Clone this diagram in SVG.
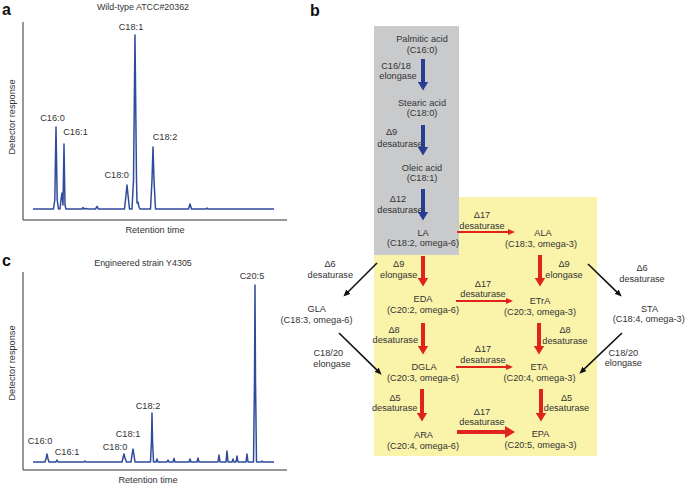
<svg xmlns="http://www.w3.org/2000/svg" width="685" height="486" viewBox="0 0 685 486">
<style>
text{font-family:"Liberation Sans",Arial,sans-serif;font-size:9.2px;fill:#333;text-anchor:middle}
.pl{font-size:16px;font-weight:bold;fill:#111;text-anchor:start}
.ttl{font-size:8.9px}
.ax{stroke:#333;stroke-width:1;fill:none}
.tr{stroke:#2f4b9c;stroke-width:1.5;fill:none;stroke-linejoin:round}
.rb{stroke:#e0231d;stroke-width:4;fill:none}
.rs{stroke:#e0231d;stroke-width:1.8;fill:none}
.bl{stroke:#2a3b93;stroke-width:4;fill:none}
.bk{stroke:#111;stroke-width:1.6;fill:none}
</style>
<defs>
<marker id="hRB" markerUnits="userSpaceOnUse" viewBox="0 0 9 11" markerWidth="9" markerHeight="11" refX="0.5" refY="5.5" orient="auto"><path d="M0,0 L9,5.5 L0,11 z" fill="#e0231d"/></marker>
<marker id="hRS" markerUnits="userSpaceOnUse" viewBox="0 0 7 6" markerWidth="7" markerHeight="6" refX="0.5" refY="3" orient="auto"><path d="M0,0 L7,3 L0,6 z" fill="#e0231d"/></marker>
<marker id="hRT" markerUnits="userSpaceOnUse" viewBox="0 0 10 12" markerWidth="10" markerHeight="12" refX="0.5" refY="6" orient="auto"><path d="M0,0 L10,6 L0,12 z" fill="#e0231d"/></marker>
<marker id="hBL" markerUnits="userSpaceOnUse" viewBox="0 0 9 11" markerWidth="9" markerHeight="11" refX="0.5" refY="5.5" orient="auto"><path d="M0,0 L9,5.5 L0,11 z" fill="#2a3b93"/></marker>
<marker id="hBK" markerUnits="userSpaceOnUse" viewBox="0 0 7 6" markerWidth="7" markerHeight="6" refX="0.5" refY="3" orient="auto"><path d="M0,0 L7,3 L0,6 z" fill="#111"/></marker>
</defs>
<rect width="685" height="486" fill="#fff"/>

<!-- Panel a -->
<g id="panel-a">
<text class="pl" x="2" y="15">a</text>
<text class="ttl" x="143" y="10">Wild-type ATCC#20362</text>
<path class="ax" d="M23,22 V220 H287"/>
<text transform="translate(15,117) rotate(-90)">Detector response</text>
<text x="155" y="233.3">Retention time</text>
<path class="tr" d="M33,209 L53.5,209 L54.8,200 L56,127 L57.2,200 L58.5,209 L60,209 L61.2,198 L62,193 L62.6,200 L63,205 L64,144 L65,205 L66,209 L82,209 L83,207.5 L84,209 L86,208.5 L88,209 L95.5,209 L97,206.5 L98.5,209 L124.5,209 L126,195 L127,185 L128,195 L129.5,209 L132,209 L133.5,180 L135,35 L136.5,180 L137,203 L138,202 L139,207 L140,209 L150.5,209 L152,180 L153,147 L154,180 L155.5,209 L188.5,209 L190,204 L191.5,209 L206,209 L207,208 L208,209 L274,209"/>
<text x="52.5" y="120.8">C16:0</text>
<text x="75.5" y="135">C16:1</text>
<text x="116.7" y="178.3">C18:0</text>
<text x="131" y="30.3">C18:1</text>
<text x="165" y="140.3">C18:2</text>
</g>

<!-- Panel c -->
<g id="panel-c">
<text class="pl" x="2" y="266">c</text>
<text class="ttl" x="143" y="266">Engineered strain Y4305</text>
<path class="ax" d="M23,272 V470 H287"/>
<text transform="translate(15,363) rotate(-90)">Detector response</text>
<text x="148" y="483.3">Retention time</text>
<path class="tr" d="M33,462 L45,462 L46.2,458 L47,454 L47.8,458 L49,462 L56,462 L57,460 L58,462 L84,462 L85,461 L86,462 L122,462 L123,458 L124,454 L125,458 L126.5,462 L131,462 L132,455 L133,449 L134,455 L135,462 L150.5,462 L151.5,440 L152,413 L152.5,440 L153.5,462 L156,462 L157,459 L158,462 L167,462 L168,460 L169,462 L173,462 L174,458.5 L175,462 L189,462 L190,459 L191,462 L197,462 L198,458 L199,462 L218,462 L219,455 L220,462 L226,462 L227,451 L228,462 L232,462 L233,459 L234,462 L236,462 L237,456 L238,462 L246,462 L247,454 L248,462 L253.5,462 L254.5,380 L255,285 L255.5,380 L256.5,462 L261,462 L262,461 L263,462 L274,462"/>
<text x="40" y="444.3">C16:0</text>
<text x="67" y="455.3">C16:1</text>
<text x="115" y="450.3">C18:0</text>
<text x="128" y="437.3">C18:1</text>
<text x="148" y="409.3">C18:2</text>
<text x="252" y="279.3">C20:5</text>
</g>

<!-- Panel b backgrounds -->
<text class="pl" x="310" y="16">b</text>
<rect x="374" y="197" width="223" height="259" fill="#faf4ab"/>
<rect x="374" y="26" width="85" height="229" fill="#c9cacc"/>

<!-- Connectors -->
<g id="connectors">
<line class="bl" x1="423" y1="59" x2="423" y2="82" marker-end="url(#hBL)"/>
<line class="bl" x1="423" y1="125" x2="423" y2="147" marker-end="url(#hBL)"/>
<line class="bl" x1="423" y1="189" x2="423" y2="212" marker-end="url(#hBL)"/>
<line class="rb" x1="423" y1="256" x2="423" y2="278" marker-end="url(#hRB)"/>
<line class="rb" x1="423" y1="323" x2="423" y2="346" marker-end="url(#hRB)"/>
<line class="rb" x1="422" y1="389" x2="422" y2="413" marker-end="url(#hRB)"/>
<line class="rb" x1="540" y1="255" x2="540" y2="278" marker-end="url(#hRB)"/>
<line class="rb" x1="539" y1="323" x2="539" y2="346" marker-end="url(#hRB)"/>
<line class="rb" x1="541" y1="389" x2="541" y2="413" marker-end="url(#hRB)"/>
<line class="rs" x1="457" y1="232" x2="508.5" y2="232" marker-end="url(#hRS)"/>
<line class="rs" x1="456" y1="301" x2="506.5" y2="301" marker-end="url(#hRS)"/>
<line class="rs" x1="456" y1="367" x2="506.5" y2="367" marker-end="url(#hRS)"/>
<line class="rb" x1="457" y1="432" x2="505.5" y2="432" marker-end="url(#hRT)"/>
<line class="bk" x1="377" y1="263" x2="348" y2="292" marker-end="url(#hBK)"/>
<line class="bk" x1="339" y1="333" x2="377" y2="370.1" marker-end="url(#hBK)"/>
<line class="bk" x1="588" y1="264" x2="617" y2="292.1" marker-end="url(#hBK)"/>
<line class="bk" x1="622" y1="333" x2="584.1" y2="369.2" marker-end="url(#hBK)"/>
</g>

<!-- Enzyme labels -->
<g id="labels">
<text x="396" y="69">C16/18</text><text x="398" y="79">elongase</text>
<text x="391.5" y="135">Δ9</text><text x="400" y="146.5">desaturase</text>
<text x="398" y="202.3">Δ12</text><text x="400" y="212.5">desaturase</text>
<text x="482" y="218.3">Δ17</text><text x="482" y="228.5">desaturase</text>
<text x="483" y="286.6">Δ17</text><text x="483" y="296.6">desaturase</text>
<text x="483" y="352.3">Δ17</text><text x="483" y="362.6">desaturase</text>
<text x="482" y="415">Δ17</text><text x="482" y="425">desaturase</text>
<text x="564" y="267.3">Δ9</text><text x="564" y="277.5">elongase</text>
<text x="565" y="333.3">Δ8</text><text x="565" y="344">desaturase</text>
<text x="566.5" y="400.6">Δ5</text><text x="566.5" y="411">desaturase</text>
<text x="642" y="271">Δ6</text><text x="642" y="282">desaturase</text>
<text x="623.3" y="355.6">C18/20</text><text x="623.3" y="366">elongase</text>
<text x="330" y="267.3">Δ6</text><text x="330.3" y="277.5">desaturase</text>
<text x="398.7" y="267.3">Δ9</text><text x="398.7" y="278">elongase</text>
<text x="328.3" y="356">C18/20</text><text x="332" y="366.6">elongase</text>
<text x="394" y="332.6">Δ8</text><text x="395.3" y="342.6">desaturase</text>
<text x="395" y="401">Δ5</text><text x="394.7" y="411">desaturase</text>
</g>

<!-- Nodes -->
<g id="node-palmitic"><text x="422" y="41.5">Palmitic acid</text><text x="422" y="53">(C16:0)</text></g>
<g id="node-stearic"><text x="422" y="105.5">Stearic acid</text><text x="422" y="115.5">(C18:0)</text></g>
<g id="node-oleic"><text x="422" y="170.5">Oleic acid</text><text x="422" y="180.5">(C18:1)</text></g>
<g id="node-LA"><text x="423" y="235.5">LA</text><text x="423" y="246.3">(C18:2, omega-6)</text></g>
<g id="node-ALA"><text x="543" y="236.3">ALA</text><text x="541" y="247.3">(C18:3, omega-3)</text></g>
<g id="node-EDA"><text x="423" y="301.6">EDA</text><text x="423" y="312.6">(C20:2, omega-6)</text></g>
<g id="node-ETrA"><text x="540" y="304.3">ETrA</text><text x="540" y="314.5">(C20:3, omega-3)</text></g>
<g id="node-GLA"><text x="316.7" y="311.6">GLA</text><text x="316.5" y="323.3">(C18:3, omega-6)</text></g>
<g id="node-STA"><text x="649.5" y="311.6">STA</text><text x="648.8" y="322.3">(C18:4, omega-3)</text></g>
<g id="node-DGLA"><text x="424" y="370">DGLA</text><text x="423" y="381">(C20:3, omega-6)</text></g>
<g id="node-ETA"><text x="539" y="370.3">ETA</text><text x="539.5" y="380.5">(C20:4, omega-3)</text></g>
<g id="node-ARA"><text x="423.5" y="438.3">ARA</text><text x="423" y="449.3">(C20:4, omega-6)</text></g>
<g id="node-EPA"><text x="540.5" y="437.3">EPA</text><text x="540.5" y="448.3">(C20:5, omega-3)</text></g>
</svg>
